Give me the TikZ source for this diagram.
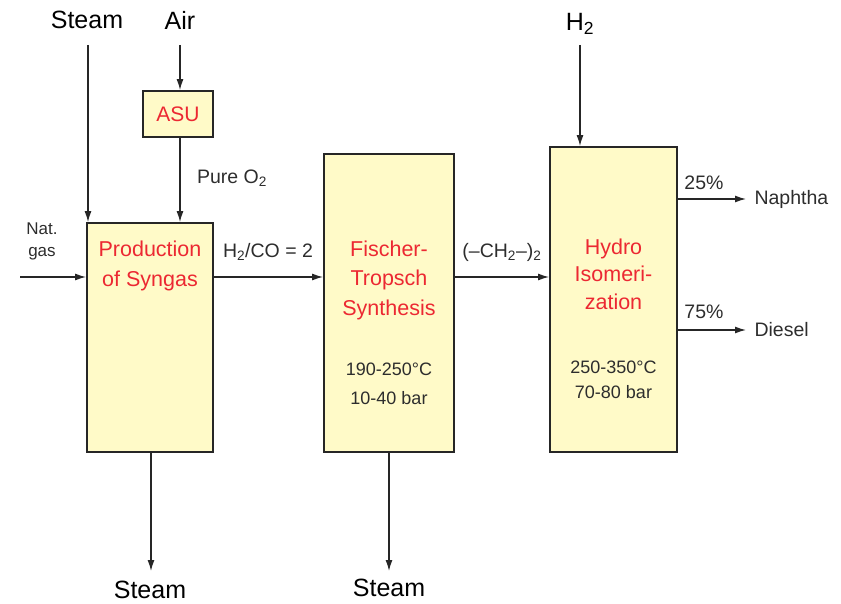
\documentclass[tikz,border=0pt]{standalone}
\usepackage{fontspec}
\setmainfont{Liberation Sans}
\usetikzlibrary{arrows.meta}
\definecolor{boxfill}{RGB}{255,250,200}
\definecolor{titlered}{RGB}{236,40,50}
\definecolor{labgray}{RGB}{45,45,45}

\begin{document}
\begin{tikzpicture}[x=1pt,y=-1pt,
  unit/.style={draw=black!85,line width=1.8pt,fill=boxfill,inner sep=0pt},
  title/.style={text=titlered,align=center},
  cond/.style={text=labgray,font=\fontsize{18}{29}\selectfont,align=center},
  flow/.style={draw=black!85,line width=1.3pt,-{Latex[length=11pt,width=7pt]}},
  big/.style={font=\fontsize{25}{28}\selectfont},
  lab/.style={text=labgray,font=\fontsize{19.5}{22}\selectfont}]
\useasboundingbox (0,0) rectangle (841,604);

% process units
\node[unit,minimum width=126pt,minimum height=229pt] (syngas) at (150,337.5) {};
\node[unit,minimum width=130pt,minimum height=298pt] (ft) at (389,303) {};
\node[unit,minimum width=127pt,minimum height=305pt] (hydro) at (613.5,299.5) {};
\node[unit,minimum width=70pt,minimum height=46pt] (asu) at (178,114) {};

\node[title,font=\fontsize{21}{30}\selectfont] (asulab) at (asu) {ASU};
\node[title,font=\fontsize{21.5}{30}\selectfont] (syngaslab) at (150,266) {Production\\of Syngas};
\node[title,font=\fontsize{21.5}{29.5}\selectfont] (ftlab) at (389,280) {Fischer-\\Tropsch\\Synthesis};
\node[cond] (ftcond) at (389,384) {190-250°C\\10-40 bar};
\node[title,font=\fontsize{21.5}{27.5}\selectfont] (hydrolab) at (613.5,274) {Hydro\\Isomeri-\\zation};
\node[cond,font=\fontsize{18}{25}\selectfont] (hydrocond) at (613.5,380) {250-350°C\\70-80 bar};

% feeds and products
\node[big] (steamtop) at (87,20) {Steam};
\node[big] (airtop) at (180,20) {Air};
\node[big] (htop) at (580,24) {H\textsubscript{2}};
\node[lab,font=\fontsize{17}{22}\selectfont,align=center] (natgas) at (42,241) {Nat.\\gas};
\node[lab] (o2lab) at (232,178) {Pure O\textsubscript{2}};
\node[lab] (ratio) at (268,252) {H\textsubscript{2}/CO = 2};
\node[lab] (chain) at (502,252) {(–CH\textsubscript{2}–)\textsubscript{2}};
\node[lab] (p25) at (704,183) {25\%};
\node[lab] (p75) at (704,312) {75\%};
\node[lab,anchor=west] (naphtha) at (751,199) {Naphtha};
\node[lab,anchor=west] (diesel) at (751,330) {Diesel};
\node[big] (steambot1) at (150,590) {Steam};
\node[big] (steambot2) at (389,588) {Steam};

\coordinate (steamin) at (88,45);
\coordinate (airin) at (180,45);
\coordinate (natin) at (20,277);
\coordinate (hin) at (580,45);
\coordinate (naphout) at (746,199);
\coordinate (dieselout) at (746,330);
\coordinate (s1out) at (151,571);
\coordinate (s2out) at (389,571);

\draw[flow] (steamin) -- (steamin |- syngas.north);
\draw[flow] (airin) -- (airin |- asu.north);
\draw[flow] (airin |- asu.south) -- (airin |- syngas.north);
\draw[flow] (natin) -- (natin -| syngas.west);
\draw[flow] (syngas.east |- natin) -- (natin -| ft.west);
\draw[flow] (ft.east |- natin) -- (natin -| hydro.west);
\draw[flow] (hin) -- (hin |- hydro.north);
\draw[flow] (naphout -| hydro.east) -- (naphout);
\draw[flow] (dieselout -| hydro.east) -- (dieselout);
\draw[flow] (s1out |- syngas.south) -- (s1out);
\draw[flow] (s2out |- ft.south) -- (s2out);
\end{tikzpicture}
\end{document}
